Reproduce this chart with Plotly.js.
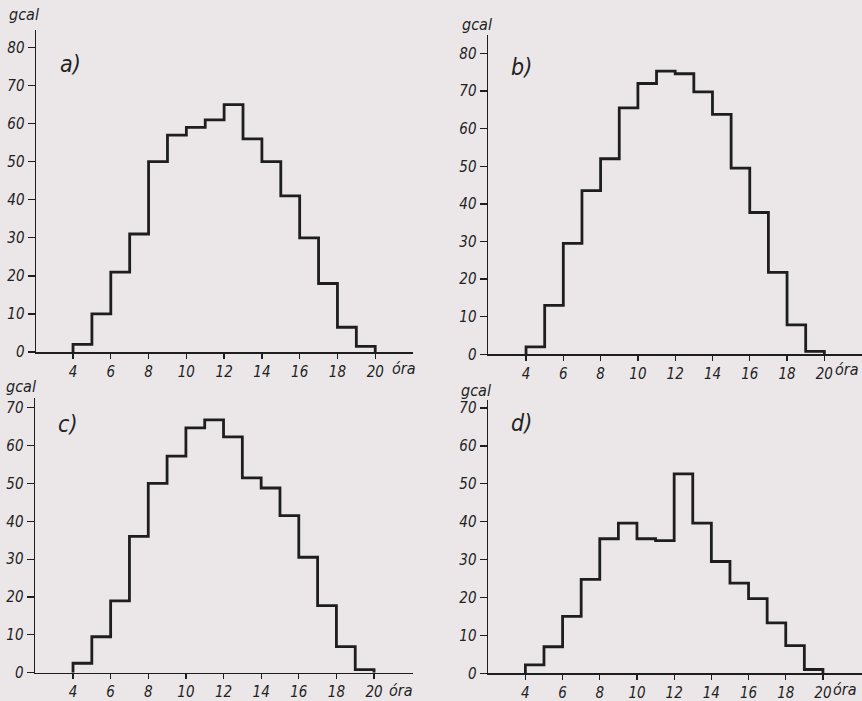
<!DOCTYPE html>
<html>
<head>
<meta charset="utf-8">
<script src="https://cdn.plot.ly/plotly-3.0.1.min.js"></script>
<style>
  html, body { margin: 0; padding: 0; background: #ebe7e9; }
  #chart { width: 862px; height: 701px; }
</style>
</head>
<body>
<div id="chart"></div>
<script>
// ---- data (hourly values, bins starting at each hour) ----
const binStarts = [4, 5, 6, 7, 8, 9, 10, 11, 12, 13, 14, 15, 16, 17, 18, 19];
const binEnd = 20;
const seriesA = [2, 10, 21, 31, 50, 57, 59, 61, 65, 56, 50, 41, 30, 18, 6.5, 1.5];
const seriesB = [2, 13, 29.5, 43.5, 52, 65.5, 72, 75.3, 74.6, 69.8, 63.8, 49.5, 37.7, 21.8, 7.8, 0.8];
const seriesC = [2.5, 9.5, 19, 36, 50, 57.2, 64.7, 66.8, 62.3, 51.5, 48.8, 41.5, 30.5, 17.7, 6.9, 0.8];
const seriesD = [2.2, 7, 15, 24.8, 35.5, 39.6, 35.5, 35, 52.6, 39.6, 29.5, 23.8, 19.7, 13.3, 7.3, 1];
const xTicks = [4, 6, 8, 10, 12, 14, 16, 18, 20];
const yTicksTop = [0, 10, 20, 30, 40, 50, 60, 70, 80];
const yTicksBottom = [0, 10, 20, 30, 40, 50, 60, 70];
const panelLabels = ['a)', 'b)', 'c)', 'd)'];
const unitLabel = 'gcal';
const hourLabel = 'óra';

const W = 862, H = 701;
const ink = '#1e1e1e';
const fontFam = '"DejaVu Sans Condensed", "DejaVu Sans", sans-serif';

function stepTrace(vals, xa, ya) {
  const xs = [binStarts[0]], ys = [0];
  binStarts.forEach((h, i) => { xs.push(h); ys.push(vals[i]); });
  xs.push(binEnd); ys.push(0);
  return {
    x: xs, y: ys, xaxis: xa, yaxis: ya, type: 'scatter', mode: 'lines',
    line: { shape: 'hv', color: ink, width: 2.8 }, hoverinfo: 'skip', showlegend: false
  };
}

const data = [
  stepTrace(seriesA, 'x', 'y'),
  stepTrace(seriesB, 'x2', 'y2'),
  stepTrace(seriesC, 'x3', 'y3'),
  stepTrace(seriesD, 'x4', 'y4')
];

function px2fx(p) { return p / W; }
function px2fy(p) { return 1 - p / H; }

const tickFont = { family: fontFam, size: 15, color: '#222', style: 'italic' };

function xAxis(l, r, range, anchor) {
  return {
    domain: [px2fx(l), px2fx(r)], range: range, anchor: anchor,
    tickvals: xTicks, ticks: 'outside', ticklen: 5, tickwidth: 1.3, tickcolor: ink,
    showline: true, linecolor: ink, linewidth: 1.5, showgrid: false, zeroline: false,
    tickfont: tickFont
  };
}
function yAxis(top, bottom, range, ticks, anchor) {
  return {
    domain: [px2fy(bottom), px2fy(top)], range: range, anchor: anchor,
    tickvals: ticks, ticks: 'outside', ticklen: 7, tickwidth: 1.3, tickcolor: ink,
    showline: true, linecolor: ink, linewidth: 1.5, showgrid: false, zeroline: false,
    tickfont: tickFont
  };
}

function ann(text, px, py, size) {
  return {
    text: text, xref: 'paper', yref: 'paper', x: px2fx(px), y: px2fy(py),
    xanchor: 'center', yanchor: 'middle', showarrow: false,
    font: { family: fontFam, size: size, color: '#222', style: 'italic' }
  };
}

const layout = {
  width: W, height: H,
  margin: { l: 0, r: 0, t: 0, b: 0 },
  paper_bgcolor: '#ebe7e9', plot_bgcolor: 'rgba(0,0,0,0)',
  showlegend: false,
  xaxis: xAxis(36, 413, [2.04, 22.0], 'y'),
  yaxis: yAxis(30, 352, [0, 84.6], yTicksTop, 'x'),
  xaxis2: xAxis(488, 862, [1.96, 22.02], 'y2'),
  yaxis2: yAxis(35, 354.3, [0, 84.9], yTicksTop, 'x2'),
  xaxis3: xAxis(35, 413, [1.98, 22.07], 'y3'),
  yaxis3: yAxis(398.3, 672.7, [0, 72.5], yTicksBottom, 'x3'),
  xaxis4: xAxis(488, 862, [1.99, 22.1], 'y4'),
  yaxis4: yAxis(400, 673.3, [0, 72.1], yTicksBottom, 'x4'),
  annotations: [
    ann(unitLabel, 24, 15, 16), ann(unitLabel, 477, 24, 16),
    ann(unitLabel, 21, 386, 16), ann(unitLabel, 476, 390, 16),
    ann(panelLabels[0], 70, 64, 23), ann(panelLabels[1], 521, 67, 23),
    ann(panelLabels[2], 67, 424, 23), ann(panelLabels[3], 521, 423, 23),
    ann(hourLabel, 404, 368, 16), ann(hourLabel, 847, 369, 16),
    ann(hourLabel, 401, 690, 16), ann(hourLabel, 845, 689, 16)
  ]
};

Plotly.newPlot('chart', data, layout, { staticPlot: true, displayModeBar: false });
</script>
</body>
</html>
